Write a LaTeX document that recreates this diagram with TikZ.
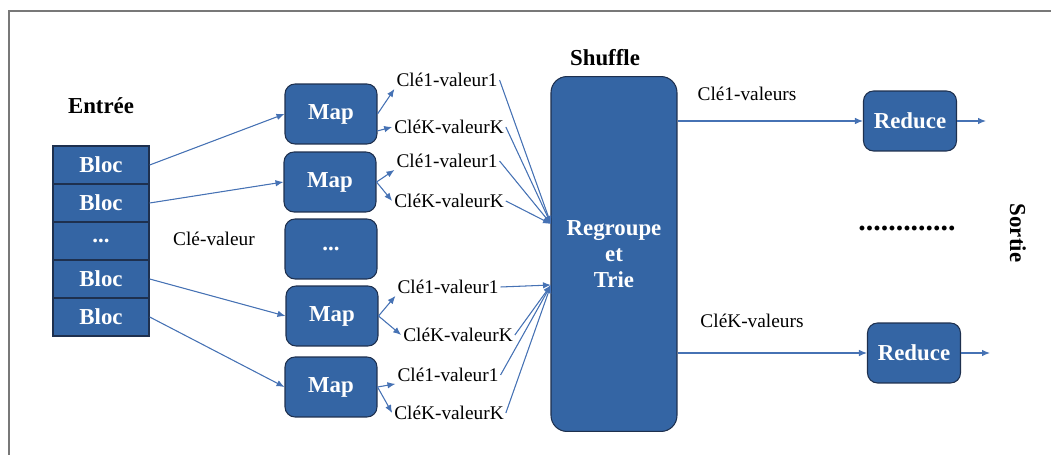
\documentclass[tikz,border=0pt]{standalone}
\usepackage{fontspec}
\setmainfont{Liberation Serif}
\usepackage{tikz}
\usetikzlibrary{arrows.meta, calc, positioning}
\definecolor{boxBlue}{RGB}{52,101,164}
\definecolor{edgeBlue}{RGB}{30,48,78}
\definecolor{linkBlue}{RGB}{70,114,180}
\definecolor{frameGray}{RGB}{120,120,120}
\newcommand{\boxFont}{\fontsize{13}{15}\selectfont\bfseries}
\newcommand{\kvFont}{\fontsize{11}{13}\selectfont}
\tikzset{
    blocBox/.style={rectangle, draw=edgeBlue, line width=0.8pt, fill=boxBlue, text=white, font=\boxFont, minimum width=1.92cm, minimum height=0.76cm, inner sep=0pt},
    procBox/.style={rectangle, rounded corners=0.2cm, draw=edgeBlue, line width=0.6pt, fill=boxBlue, text=white, font=\boxFont, minimum width=1.84cm, minimum height=1.2cm, inner sep=0pt},
    kvLabel/.style={font=\kvFont, inner sep=1pt},
    link/.style={-{Latex[length=1.6mm, width=1.3mm]}, draw=linkBlue, fill=linkBlue, line width=0.6pt},
    frameLine/.style={draw=frameGray, line width=1.1pt},
}
% une Map envoie vers ses deux paires
\newcommand{\splitMap}[4][east]{
    \draw[link] (#2.east) -- (#3.south west);
    \draw[link] (#2.#1) -- (#4.west);
}

\begin{document}
\begin{tikzpicture}[x=0.02cm, y=-0.02cm]
    \useasboundingbox (0,0) rectangle (1051,455);
    \draw[frameLine] (1051,11) -- (9,11) -- (9,455);

    % entree
    \node[font=\boxFont] (entree) at (101,106) {Entrée};
    \node[blocBox] (b1) at (101,165) {Bloc};
    \node[blocBox] (b2) at (101,203) {Bloc};
    \node[blocBox] (b3) at (101,241) {...};
    \node[blocBox] (b4) at (101,279) {Bloc};
    \node[blocBox] (b5) at (101,317) {Bloc};

    \node[kvLabel] (kv) at (214,239) {Clé-valeur};

    % map
    \node[procBox] (m1) at (331,114) {Map};
    \node[procBox] (m2) at (330,182) {Map};
    \node[procBox] (mdots) at (331,249) {...};
    \node[procBox] (m3) at (332,316) {Map};
    \node[procBox] (m4) at (331,387) {Map};

    \draw[link] (b1.east) -- (m1.west);
    \draw[link] (b2.east) -- (m2.west);
    \draw[link] (b4.east) -- (m3.west);
    \draw[link] (b5.east) -- (m4.west);

    % paires cle-valeur
    \node[kvLabel] (k11) at (447,80) {Clé1-valeur1};
    \node[kvLabel] (kK1) at (449,127) {CléK-valeurK};
    \node[kvLabel] (k12) at (447,161) {Clé1-valeur1};
    \node[kvLabel] (kK2) at (449,201) {CléK-valeurK};
    \node[kvLabel] (k13) at (448,287) {Clé1-valeur1};
    \node[kvLabel] (kK3) at (458,335) {CléK-valeurK};
    \node[kvLabel] (k14) at (448,375) {Clé1-valeur1};
    \node[kvLabel] (kK4) at (449,413) {CléK-valeurK};

    \splitMap[-20]{m1}{k11}{kK1}
    \splitMap{m2}{k12}{kK2}
    \splitMap{m3}{k13}{kK3}
    \splitMap{m4}{k14}{kK4}

    % shuffle
    \node[font=\boxFont] (shTitle) at (605,58) {Shuffle};
    \node[procBox, rounded corners=0.32cm, minimum width=2.52cm, minimum height=7.1cm, align=center] (sh) at (614,254) {Regroupe\\et\\Trie};
    \coordinate (inTop) at (551,224);
    \coordinate (inBot) at (551,285);

    \foreach \k in {k11, kK1, k12, kK2}
        \draw[link] (\k.east) -- (inTop);
    \foreach \k in {k13, kK3, k14, kK4}
        \draw[link] (\k.east) -- (inBot);

    % reduce
    \node[procBox, minimum width=1.86cm] (r1) at (910,121) {Reduce};
    \node[procBox, minimum width=1.86cm] (r2) at (914,353) {Reduce};
    \node[kvLabel] (v1) at (747,94) {Clé1-valeurs};
    \node[kvLabel] (vK) at (752,321) {CléK-valeurs};

    \draw[link] (r1 -| sh.east) -- (r1.west);
    \draw[link] (r2 -| sh.east) -- (r2.west);

    \coordinate (out1) at (986,121);
    \coordinate (out2) at (990,353);
    \draw[link] (r1.east) -- (out1);
    \draw[link] (r2.east) -- (out2);

    \node[font=\fontsize{17}{20}\selectfont\bfseries] (rdots) at (907,229) {.............};
    \node[font=\boxFont, rotate=-90] (sortie) at (1018,233) {Sortie};

\end{tikzpicture}
\end{document}
